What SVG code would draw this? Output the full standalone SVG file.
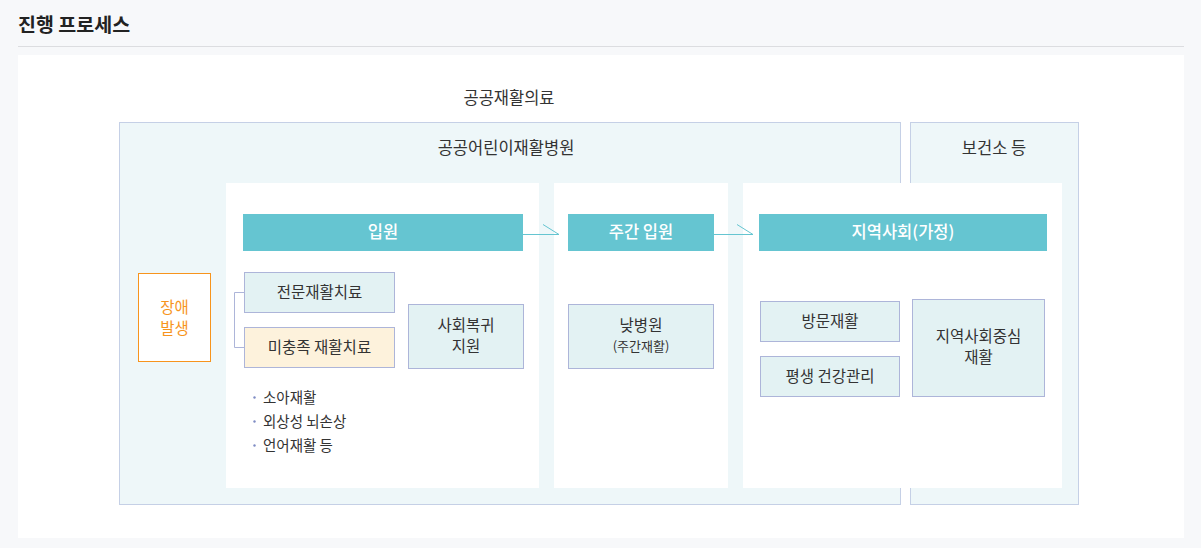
<svg xmlns="http://www.w3.org/2000/svg" width="1201" height="548" viewBox="0 0 1201 548">
<style>
text{font-family:"Noto Sans CJK KR","Noto Sans",sans-serif;}
.t{font-size:15.5px;fill:#333;text-anchor:middle;}
.h{font-size:16.5px;fill:#333;text-anchor:middle;}
.hdr{font-size:16.5px;fill:#fff;text-anchor:middle;font-weight:500;}
.area{fill:#eef7f9;stroke:#c5d0e6;stroke-width:1;}
.panel{fill:#fff;}
.bar{fill:#65c5d1;}
.box{fill:#e3f2f3;stroke:#adb5d9;stroke-width:1;}
.boxy{fill:#fdf2dc;stroke:#adb5d9;stroke-width:1;}
.conn{fill:none;stroke:#65c5d1;stroke-width:1;}
.br{fill:none;stroke:#adb5d9;stroke-width:1;}
.bl{font-size:14.5px;fill:#333;}
</style>
<rect x="0" y="0" width="1201" height="548" fill="#f7f8fa"/>
<text x="18" y="32" style="font-size:19.5px;font-weight:700;fill:#222;">진행 프로세스</text>
<line x1="18" y1="46.5" x2="1184" y2="46.5" stroke="#dcdde0" stroke-width="1"/>
<rect x="18" y="55" width="1166" height="483" fill="#fff"/>
<text class="h" x="509" y="104">공공재활의료</text>
<g id="hospital">
<rect class="area" x="119.5" y="122.5" width="781" height="382"/>
<text class="h" x="506" y="154">공공어린이재활병원</text>
</g>
<g id="health-center">
<rect class="area" x="910.5" y="122.5" width="168" height="382"/>
<text class="h" x="994" y="154">보건소 등</text>
</g>
<rect class="panel" x="226" y="183" width="313" height="305"/>
<rect class="panel" x="554" y="183" width="174" height="305"/>
<rect class="panel" x="743" y="183" width="319" height="305"/>
<g id="disability">
<rect x="138.5" y="273.5" width="72" height="88" fill="#fff" stroke="#f7941d" stroke-width="1"/>
<text x="174.5" y="313" style="font-size:15.5px;fill:#f7941d;text-anchor:middle;">장애</text>
<text x="174.5" y="334" style="font-size:15.5px;fill:#f7941d;text-anchor:middle;">발생</text>
</g>
<g id="inpatient">
<rect class="bar" x="243" y="214" width="280" height="37"/>
<text class="hdr" x="383" y="238">입원</text>
</g>
<g id="day-inpatient">
<rect class="bar" x="568" y="214" width="146" height="37"/>
<text class="hdr" x="641" y="238">주간 입원</text>
</g>
<g id="community">
<rect class="bar" x="759" y="214" width="288" height="37"/>
<text class="hdr" x="903" y="238">지역사회(가정)</text>
</g>
<g id="specialized">
<rect class="box" x="244.5" y="272.5" width="150" height="40"/>
<text class="t" x="319.5" y="298">전문재활치료</text>
</g>
<g id="unmet">
<rect class="boxy" x="244.5" y="327.5" width="150" height="40"/>
<text class="t" x="319.5" y="353">미충족 재활치료</text>
</g>
<g id="social-return">
<rect class="box" x="408.5" y="304.5" width="115" height="64"/>
<text class="t" x="466" y="331">사회복귀</text>
<text class="t" x="466" y="352">지원</text>
</g>
<g id="day-hospital">
<rect class="box" x="568.5" y="304.5" width="145" height="64"/>
<text class="t" x="641" y="331">낮병원</text>
<text x="641" y="351" style="font-size:13px;fill:#333;text-anchor:middle;">(주간재활)</text>
</g>
<g id="home-visit">
<rect class="box" x="760.5" y="301.5" width="139" height="40"/>
<text class="t" x="830" y="327">방문재활</text>
</g>
<g id="lifelong">
<rect class="box" x="760.5" y="356.5" width="139" height="40"/>
<text class="t" x="830" y="382">평생 건강관리</text>
</g>
<g id="cbr">
<rect class="box" x="912.5" y="299.5" width="132" height="97"/>
<text class="t" x="978.5" y="342">지역사회중심</text>
<text class="t" x="978.5" y="363">재활</text>
</g>
<g id="list">
<circle cx="254.5" cy="397.5" r="1.2" fill="#7f8cc4"/>
<circle cx="254.5" cy="421.5" r="1.2" fill="#7f8cc4"/>
<circle cx="254.5" cy="445.5" r="1.2" fill="#7f8cc4"/>
<text class="bl" x="263" y="403">소아재활</text>
<text class="bl" x="263" y="427">외상성 뇌손상</text>
<text class="bl" x="263" y="451">언어재활 등</text>
</g>
<g id="connectors">
<polyline class="br" points="244,292.5 234.5,292.5 234.5,347.5 244,347.5"/>
<polyline class="conn" points="523,234.5 559,234.5 543,224.5"/>
<polyline class="conn" points="714,234.5 753,234.5 737,224.5"/>
</g>
</svg>
